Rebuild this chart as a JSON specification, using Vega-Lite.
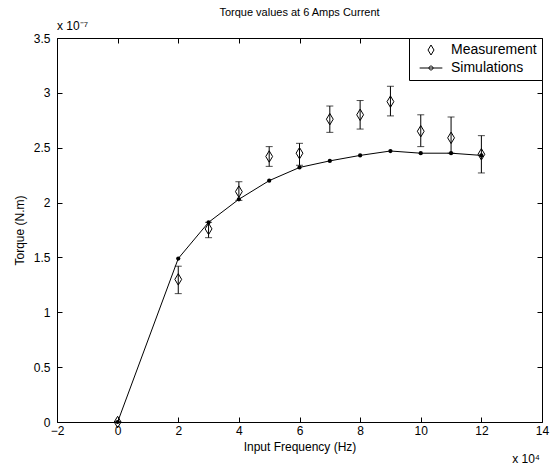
{
  "$schema": "https://vega.github.io/schema/vega-lite/v6.json",
  "width": 485,
  "height": 384,
  "autosize": {"type": "none"},
  "padding": {"left": 57, "top": 38, "right": 8, "bottom": 48},
  "background": "white",
  "config": {
    "font": "Liberation Sans",
    "view": {"stroke": "black", "strokeWidth": 1},
    "axis": {"grid": false, "domain": false, "tickColor": "black", "labelColor": "black", "titleColor": "black", "labelFont": "Liberation Sans", "titleFont": "Liberation Sans", "labelFontSize": 12, "titleFontSize": 12, "titleFontWeight": "normal"}
  },
  "title": {"text": "Torque values at 6 Amps Current", "fontSize": 11, "fontWeight": "normal", "font": "Liberation Sans", "color": "black", "offset": 2},
  "datasets": {
    "meas": [
      {"freq": 0, "torque": 0.0, "lo": 0.0, "hi": 0.0, "series": "Measurement"},
      {"freq": 2, "torque": 1.30, "lo": 1.17, "hi": 1.42, "series": "Measurement"},
      {"freq": 3, "torque": 1.76, "lo": 1.68, "hi": 1.82, "series": "Measurement"},
      {"freq": 4, "torque": 2.10, "lo": 2.02, "hi": 2.19, "series": "Measurement"},
      {"freq": 5, "torque": 2.42, "lo": 2.33, "hi": 2.51, "series": "Measurement"},
      {"freq": 6, "torque": 2.45, "lo": 2.34, "hi": 2.54, "series": "Measurement"},
      {"freq": 7, "torque": 2.76, "lo": 2.64, "hi": 2.88, "series": "Measurement"},
      {"freq": 8, "torque": 2.80, "lo": 2.67, "hi": 2.93, "series": "Measurement"},
      {"freq": 9, "torque": 2.92, "lo": 2.79, "hi": 3.06, "series": "Measurement"},
      {"freq": 10, "torque": 2.65, "lo": 2.51, "hi": 2.80, "series": "Measurement"},
      {"freq": 11, "torque": 2.59, "lo": 2.45, "hi": 2.78, "series": "Measurement"},
      {"freq": 12, "torque": 2.44, "lo": 2.27, "hi": 2.61, "series": "Measurement"}
    ],
    "sim": [
      {"freq": 0, "torque": 0.0},
      {"freq": 2, "torque": 1.49},
      {"freq": 3, "torque": 1.82},
      {"freq": 4, "torque": 2.03},
      {"freq": 5, "torque": 2.20},
      {"freq": 6, "torque": 2.32},
      {"freq": 7, "torque": 2.38},
      {"freq": 8, "torque": 2.43},
      {"freq": 9, "torque": 2.47},
      {"freq": 10, "torque": 2.45},
      {"freq": 11, "torque": 2.45},
      {"freq": 12, "torque": 2.43}
    ]
  },
  "resolve": {"axis": {"x": "independent", "y": "independent"}},
  "layer": [
    {
      "data": {"name": "meas"},
      "mark": {"type": "rule", "color": "black", "strokeWidth": 1},
      "encoding": {
        "x": {"field": "freq", "type": "quantitative", "scale": {"domain": [-2, 14], "nice": false, "zero": false},
              "axis": {"orient": "bottom", "values": [-2, 0, 2, 4, 6, 8, 10, 12, 14], "format": "d", "tickSize": -5, "labelPadding": 8, "title": "Input Frequency (Hz)", "titlePadding": 5, "labelFlush": false}},
        "y": {"field": "lo", "type": "quantitative", "scale": {"domain": [0, 3.5], "nice": false},
              "axis": {"orient": "left", "values": [0, 0.5, 1, 1.5, 2, 2.5, 3, 3.5], "labelExpr": "'' + datum.value", "tickSize": -5, "labelPadding": 12, "title": "Torque (N.m)", "titlePadding": 7, "labelFlush": false}},
        "y2": {"field": "hi"}
      }
    },
    {
      "data": {"name": "meas"},
      "mark": {"type": "tick", "color": "black", "orient": "horizontal", "size": 7, "thickness": 1},
      "encoding": {
        "x": {"field": "freq", "type": "quantitative", "axis": null},
        "y": {"field": "lo", "type": "quantitative", "axis": null}
      }
    },
    {
      "data": {"name": "meas"},
      "mark": {"type": "tick", "color": "black", "orient": "horizontal", "size": 7, "thickness": 1},
      "encoding": {
        "x": {"field": "freq", "type": "quantitative", "axis": null},
        "y": {"field": "hi", "type": "quantitative", "axis": null}
      }
    },
    {
      "data": {"name": "sim"},
      "mark": {"type": "line", "color": "black", "strokeWidth": 1},
      "encoding": {
        "x": {"field": "freq", "type": "quantitative",
              "axis": {"orient": "top", "values": [-2, 0, 2, 4, 6, 8, 10, 12, 14], "labels": false, "tickSize": -5, "title": null}},
        "y": {"field": "torque", "type": "quantitative",
              "axis": {"orient": "right", "values": [0, 0.5, 1, 1.5, 2, 2.5, 3, 3.5], "labels": false, "tickSize": -5, "title": null}}
      }
    },
    {
      "data": {"name": "sim"},
      "mark": {"type": "point", "shape": "circle", "filled": true, "color": "black", "size": 18, "opacity": 1},
      "encoding": {
        "x": {"field": "freq", "type": "quantitative", "axis": null},
        "y": {"field": "torque", "type": "quantitative", "axis": null}
      }
    },
    {
      "data": {"name": "meas"},
      "mark": {"type": "point", "filled": false, "stroke": "black", "strokeWidth": 1, "size": 130, "opacity": 1},
      "encoding": {
        "x": {"field": "freq", "type": "quantitative", "axis": null},
        "y": {"field": "torque", "type": "quantitative", "axis": null},
        "shape": {"field": "series", "type": "nominal",
                  "scale": {"domain": ["Measurement", "Simulations"], "range": ["M0,-1L0.6,0L0,1L-0.6,0Z", "M-2.27,0L2.27,0M0.4,0A0.4,0.4,0,1,1,-0.4,0A0.4,0.4,0,1,1,0.4,0Z"]},
                  "legend": {"title": null, "orient": "top-right", "offset": 0, "strokeColor": "black", "fillColor": "white", "padding": 5, "symbolSize": 100, "symbolOffset": 10, "symbolStrokeColor": "black", "symbolStrokeWidth": 1, "labelFontSize": 14, "labelFont": "Liberation Sans", "labelColor": "black", "labelOffset": 13, "rowPadding": 4,
                             "labelExpr": "datum.label + '\u00a0\u00a0\u00a0'",
                             "encode": {"symbols": {"update": {"fill": {"signal": "datum.value === 'Simulations' ? 'black' : 'transparent'"}, "stroke": {"value": "black"}, "opacity": {"value": 1}}}}}}
      }
    },
    {
      "data": {"values": [{}]},
      "mark": {"type": "text", "text": "x 10⁻⁷", "align": "left", "baseline": "alphabetic", "dy": -8, "fontSize": 12, "font": "Liberation Sans", "color": "black"},
      "encoding": {
        "x": {"datum": -2, "type": "quantitative", "axis": null},
        "y": {"datum": 3.5, "type": "quantitative", "axis": null}
      }
    },
    {
      "data": {"values": [{}]},
      "mark": {"type": "text", "text": "x 10⁴", "align": "right", "baseline": "alphabetic", "dy": 41, "dx": -2, "fontSize": 12, "font": "Liberation Sans", "color": "black"},
      "encoding": {
        "x": {"datum": 14, "type": "quantitative", "axis": null},
        "y": {"datum": 0, "type": "quantitative", "axis": null}
      }
    }
  ]
}
